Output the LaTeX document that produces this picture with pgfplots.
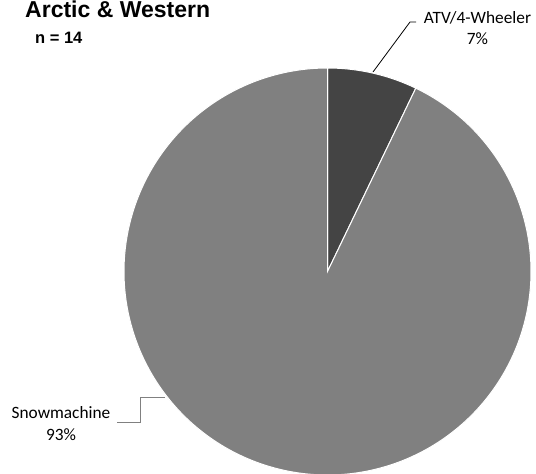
\documentclass[border=0pt]{standalone}
\usepackage{pgfplots}
\pgfplotsset{compat=1.18}
\usepackage{pgfplotstable}
\usepackage{fontspec}
\setmainfont{Carlito}
\newfontfamily\arial{Liberation Sans}
\definecolor{darkslice}{RGB}{68,68,68}
\definecolor{lightslice}{RGB}{128,128,128}
\pgfplotstableread{
label count
ATV 1
Snow 13
}\piedata
\begin{document}
\begin{tikzpicture}
\pgfplotstablegetelem{0}{count}\of\piedata \let\cA\pgfplotsretval
\pgfplotstablegetelem{1}{count}\of\piedata \let\cB\pgfplotsretval
\pgfmathsetmacro\tot{\cA+\cB}
\pgfmathsetmacro\angA{90-360*\cA/\tot}
\begin{axis}[at={(0,0)},anchor=south west, scale only axis, width=536pt, height=474pt,
  xmin=0,xmax=536,ymin=0,ymax=474, hide axis, clip=false]
\addplot[fill=darkslice, draw=white, line width=1pt, domain=\angA:90, samples=60, variable=\t]
  ({327.5+203.5*cos(\t)},{202.5+203.5*sin(\t)}) -- (axis cs:327.5,202.5) -- cycle;
\addplot[fill=lightslice, draw=white, line width=1pt, domain=-270:\angA, samples=300, variable=\t]
  ({327.5+203.5*cos(\t)},{202.5+203.5*sin(\t)}) -- (axis cs:327.5,202.5) -- cycle;
\draw[black, line width=0.8pt] (axis cs:373,402) -- (axis cs:410,452) -- (axis cs:416,452);
\draw[lightslice, line width=0.8pt] (axis cs:117,52) -- (axis cs:140,52) -- (axis cs:140,77) -- (axis cs:165,77);
\node[anchor=base west, inner sep=0, font=\arial\bfseries\fontsize{23}{28}\selectfont] at (axis cs:25,456) {Arctic \& Western};
\node[anchor=base west, inner sep=0, font=\arial\bfseries\fontsize{16.5}{20}\selectfont] at (axis cs:35,430.7) {n = 14};
\node[anchor=base, inner sep=0, align=center, font=\fontsize{17.3}{21}\selectfont] at (axis cs:477.5,429.7) {ATV/4-Wheeler\\7\%};
\node[anchor=base, inner sep=0, align=center, font=\fontsize{17.3}{22}\selectfont] at (axis cs:61,33) {Snowmachine\\93\%};
\end{axis}
\pgfresetboundingbox
\useasboundingbox (0,0) rectangle (536pt,474pt);
\end{tikzpicture}
\end{document}
